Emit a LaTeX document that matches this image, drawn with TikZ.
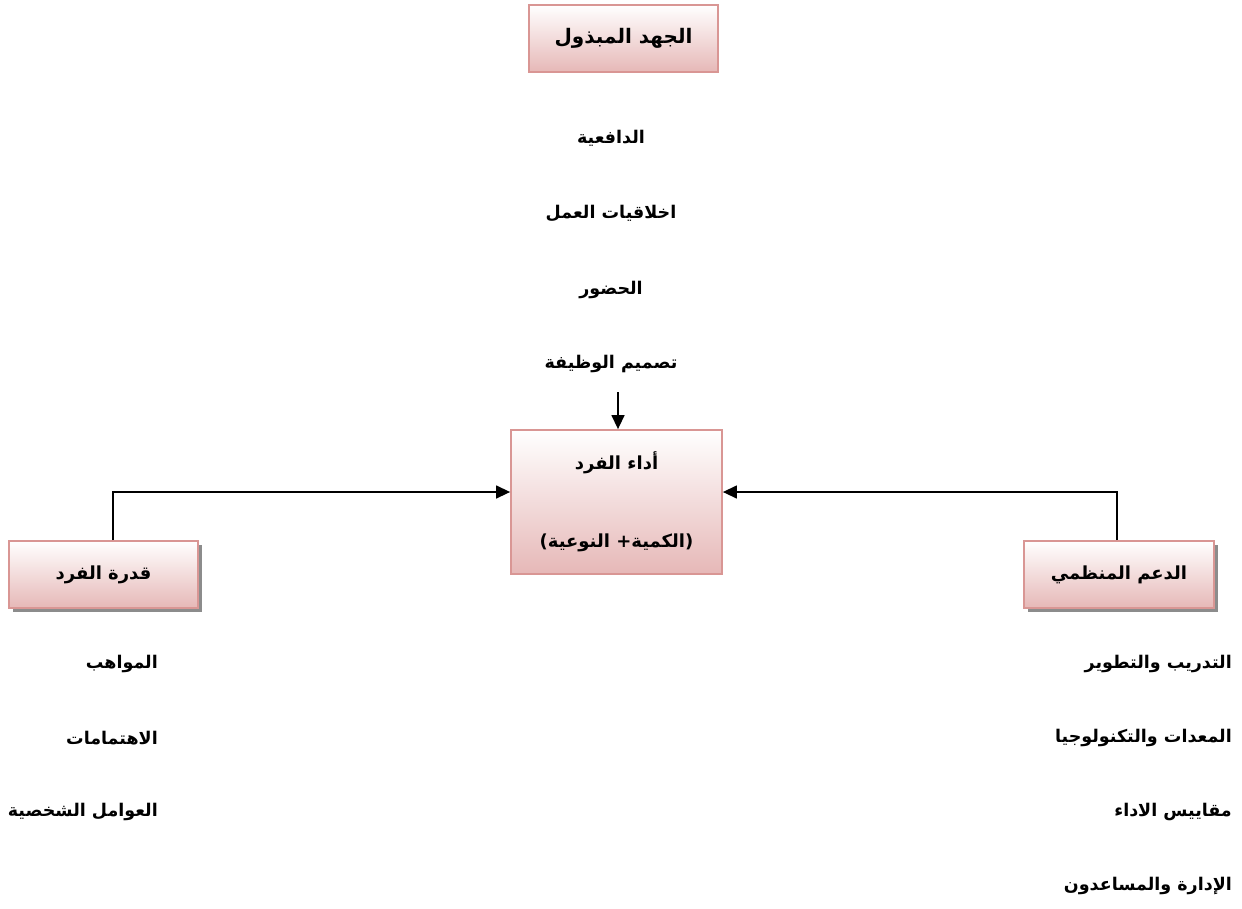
\documentclass[tikz,border=0pt]{standalone}
\usepackage{fontspec}
\usetikzlibrary{arrows.meta,shadows}
\newfontfamily\arabicfont[Script=Arabic]{DejaVu Sans}
\TeXXeTstate=1
\definecolor{boxline}{HTML}{D99694}
\definecolor{boxbot}{HTML}{E6B8B7}
\definecolor{shadowgray}{HTML}{808080}
\tikzset{
  x=1pt,y=1pt,
  pinkbox/.style={draw=boxline,line width=1.8pt,top color=white,bottom color=boxbot,
    minimum width=#1,inner sep=0pt,font=\arabicfont\bfseries\fontsize{18}{20}\selectfont},
  shadowed/.style={drop shadow={shadow xshift=4pt,shadow yshift=-4pt,fill=shadowgray,opacity=0.9}},
  lbl/.style={font=\arabicfont\bfseries\fontsize{17.5}{20}\selectfont,inner sep=0pt},
  conn/.style={line width=1.4pt,-{Triangle[length=14pt,width=13pt]}},
}
\begin{document}
\begin{tikzpicture}
\useasboundingbox (0,0) rectangle (1242,-908);
% boxes
\node[pinkbox=189pt,minimum height=67pt,font=\arabicfont\bfseries\fontsize{20}{22}\selectfont] (top) at (623.5,-38.5) {\beginR الجهد المبذول\endR};
\node[pinkbox=211pt,minimum height=144pt,align=center] (mid) at (616.5,-502)
  {\beginR أداء الفرد\endR\\[58pt]\beginR (الكمية+ النوعية)\endR};
\node[pinkbox=189pt,minimum height=67pt,shadowed] (left) at (103.5,-574.5) {\beginR قدرة الفرد\endR};
\node[pinkbox=190pt,minimum height=67pt,shadowed] (right) at (1119,-574.5) {\beginR الدعم المنظمي\endR};
% centre list
\node[lbl] (t1) at (611,-138) {\beginR الدافعية\endR};
\node[lbl] (t2) at (611,-213) {\beginR اخلاقيات العمل\endR};
\node[lbl] (t3) at (611,-290) {\beginR الحضور\endR};
\node[lbl] (t4) at (611,-364) {\beginR تصميم الوظيفة\endR};
% left list
\node[lbl,anchor=east] (l1) at (158,-664) {\beginR المواهب\endR};
\node[lbl,anchor=east] (l2) at (158,-738) {\beginR الاهتمامات\endR};
\node[lbl,anchor=east] (l3) at (158,-812) {\beginR العوامل الشخصية\endR};
% right list
\node[lbl,anchor=east] (r1) at (1232,-664) {\beginR التدريب والتطوير\endR};
\node[lbl,anchor=east] (r2) at (1232,-738) {\beginR المعدات والتكنولوجيا\endR};
\node[lbl,anchor=east] (r3) at (1232,-812) {\beginR مقاييس الاداء\endR};
\node[lbl,anchor=east] (r4) at (1232,-886) {\beginR الإدارة والمساعدون\endR};
% connectors
\coordinate (a0) at (618,-392);
\draw[conn] (a0) -- (mid.north -| a0);
\draw[conn] (left.north -| 113,0) |- (mid.west |- 0,-492);
\draw[conn] (right.north -| 1117,0) |- (mid.east |- 0,-492);
\end{tikzpicture}
\end{document}
